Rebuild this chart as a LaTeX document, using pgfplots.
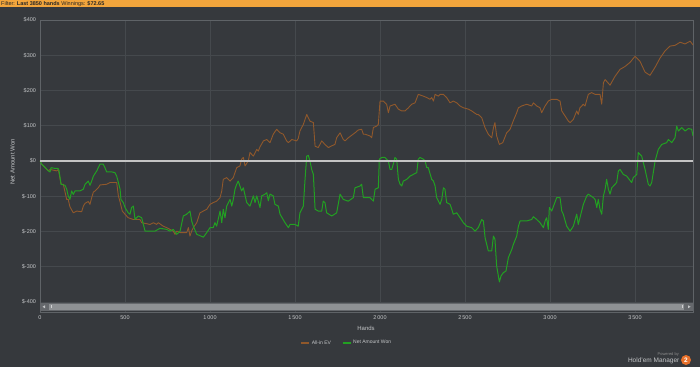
\documentclass[border=0pt]{standalone}
\usepackage{fontspec}
\setmainfont{Liberation Sans}
\usepackage{pgfplots}
\usepackage{pgfplotstable}
\pgfplotsset{compat=1.18}
\definecolor{bg}{HTML}{36393D}
\definecolor{gridc}{HTML}{45494D}
\definecolor{axc}{HTML}{5F6367}
\definecolor{txt}{HTML}{C4C6C8}
\definecolor{ev}{HTML}{90582B}
\definecolor{won}{HTML}{22A022}
\definecolor{zeroc}{HTML}{C4C4C4}
\definecolor{hdr}{HTML}{F2A53C}
\definecolor{badge}{HTML}{E8702A}
\definecolor{track}{HTML}{65686C}
\definecolor{thumb}{HTML}{8E9194}

\pgfplotstableread{
h v
0 0
10 -9
29 -18
49 -28
59 -31
65 -19
88 -21
106 -21
112 -28
124 -66
147 -69
157 -80
166 -99
176 -109
186 -85
196 -95
206 -85
235 -85
255 -80
265 -66
284 -57
294 -69
304 -57
314 -43
334 -28
353 -9
372 -9
382 -19
392 -31
422 -31
441 -33
451 -43
461 -61
471 -80
476 -109
490 -118
500 -132
519 -147
529 -151
539 -132
549 -128
559 -166
578 -156
598 -161
608 -180
618 -199
637 -199
676 -199
706 -191
745 -194
765 -199
784 -194
804 -208
824 -199
843 -156
863 -151
882 -142
892 -170
902 -185
922 -208
961 -216
981 -203
1000 -189
1019 -189
1029 -175
1039 -185
1059 -142
1069 -175
1078 -137
1088 -161
1098 -128
1118 -109
1128 -128
1137 -109
1147 -80
1157 -66
1166 -57
1176 -71
1186 -85
1196 -76
1216 -118
1235 -128
1255 -99
1265 -118
1275 -99
1294 -132
1304 -99
1324 -94
1334 -90
1343 -113
1353 -94
1372 -99
1382 -123
1402 -128
1412 -151
1441 -175
1461 -189
1471 -180
1500 -180
1519 -185
1529 -147
1549 -128
1559 -52
1569 14
1578 16
1588 0
1598 -24
1608 -38
1618 -137
1637 -142
1657 -142
1666 -114
1676 -118
1686 -147
1716 -156
1745 -147
1765 -94
1784 -109
1813 -114
1843 -104
1853 -76
1882 -71
1892 -66
1902 -104
1941 -104
1961 -114
1971 -80
1990 -76
1996 5
2010 10
2029 10
2039 5
2049 0
2059 -24
2069 -24
2078 -9
2088 10
2098 5
2108 -52
2118 -66
2128 -71
2137 -57
2157 -52
2176 -43
2196 -38
2216 -33
2225 5
2235 10
2255 5
2265 0
2275 -19
2284 -19
2304 -52
2314 -57
2324 -71
2333 -104
2353 -123
2363 -109
2373 -76
2382 -80
2392 -118
2412 -123
2422 -137
2431 -151
2451 -147
2471 -161
2490 -175
2510 -185
2539 -189
2559 -199
2578 -189
2598 -166
2608 -170
2618 -218
2637 -255
2657 -255
2667 -213
2676 -222
2686 -298
2702 -343
2712 -326
2725 -317
2741 -312
2755 -274
2775 -251
2784 -237
2804 -213
2814 -185
2824 -170
2863 -170
2892 -166
2902 -158
2922 -166
2941 -175
2961 -189
2971 -170
2980 -161
2990 -194
2996 -132
3010 -142
3039 -104
3059 -104
3069 -142
3078 -151
3098 -185
3118 -199
3137 -185
3157 -151
3166 -180
3186 -142
3196 -123
3216 -99
3225 -94
3255 -104
3265 -109
3275 -132
3284 -109
3294 -137
3304 -151
3314 -99
3324 -80
3333 -52
3343 -80
3353 -94
3363 -76
3373 -71
3392 -61
3402 -28
3412 -24
3431 -38
3451 -43
3480 -61
3490 -47
3510 -38
3519 24
3539 14
3559 -24
3578 -66
3588 -71
3598 -61
3618 0
3637 33
3657 47
3686 52
3696 61
3716 52
3735 66
3745 99
3755 85
3775 95
3794 85
3814 92
3833 90
3841 71
}\wondata

\pgfplotstableread{
h v
0 0
10 -9
29 -18
49 -28
59 -24
98 -28
108 -24
124 -66
137 -66
157 -109
166 -109
176 -130
196 -147
216 -142
245 -144
255 -128
265 -120
284 -115
294 -123
304 -104
314 -88
324 -85
343 -76
353 -68
392 -66
412 -61
451 -61
461 -99
471 -116
484 -142
500 -151
519 -161
549 -166
588 -166
598 -175
628 -178
647 -180
667 -175
686 -180
696 -175
725 -185
745 -189
784 -199
794 -208
804 -199
824 -203
863 -203
873 -189
882 -213
892 -199
902 -189
922 -175
941 -147
961 -142
981 -137
1000 -123
1019 -118
1039 -114
1059 -104
1069 -85
1078 -52
1098 -47
1118 -57
1137 -47
1157 -19
1176 -14
1186 5
1196 10
1206 -14
1225 0
1235 24
1255 14
1275 33
1284 28
1294 40
1314 57
1334 61
1353 52
1372 76
1392 90
1412 80
1431 76
1451 57
1461 52
1481 61
1510 57
1519 64
1529 85
1549 104
1569 132
1588 113
1608 109
1618 42
1637 38
1657 57
1676 47
1696 38
1716 43
1735 47
1745 66
1765 80
1784 61
1794 57
1814 66
1853 80
1872 88
1892 90
1902 76
1912 76
1941 71
1951 66
1961 95
1980 99
1990 104
2000 170
2020 170
2029 165
2039 161
2049 137
2059 156
2088 161
2108 147
2128 142
2147 142
2167 151
2186 161
2206 165
2225 189
2255 184
2275 180
2294 175
2304 180
2314 170
2324 189
2343 184
2353 189
2373 189
2392 180
2412 165
2431 170
2451 165
2471 156
2490 151
2520 147
2539 142
2569 132
2578 132
2598 123
2618 94
2637 76
2657 66
2667 94
2676 109
2686 71
2702 47
2722 52
2745 80
2765 90
2784 114
2804 137
2814 151
2833 156
2863 161
2892 156
2902 165
2922 156
2941 151
2951 137
2971 156
2990 170
3010 175
3039 175
3059 170
3069 142
3088 128
3108 113
3118 109
3137 118
3157 142
3166 132
3176 151
3196 161
3206 156
3225 189
3245 194
3265 189
3294 189
3304 161
3314 222
3324 231
3353 215
3382 240
3412 260
3441 268
3471 280
3500 297
3529 283
3559 252
3588 243
3618 266
3647 292
3676 312
3706 326
3735 328
3765 337
3794 332
3824 340
3841 329
}\evdata

\begin{document}
\begin{tikzpicture}
\fill[bg] (-40pt,-55pt) rectangle (660pt,312pt);
\fill[hdr] (-40pt,304.5pt) rectangle (660pt,312pt);
\node[anchor=west, font=\fontsize{5.5}{6}\selectfont, text=black!85, inner sep=0pt] at (-39pt,308.2pt) {Filter: \textbf{Last 3850 hands} Winnings: \textbf{\$72.65}};
\begin{axis}[
  scale only axis, width=653pt, height=292pt,
  xmin=0, xmax=3841, ymin=-428.4, ymax=400,
  xtick={0,500,1000,1500,2000,2500,3000,3500},
  xticklabels={0,500,{1\,000},{1\,500},{2\,000},{2\,500},{3\,000},{3\,500}},
  ytick={-400,-300,-200,-100,0,100,200,300,400},
  yticklabels={\$-400,\$-300,\$-200,\$-100,\$0,\$100,\$200,\$300,\$400},
  major tick length=0pt,
  grid=major,
  major grid style={draw=gridc, line width=0.6pt},
  axis line style={draw=axc, line width=0.9pt},
  tick label style={text=txt, font=\fontsize{5.5}{6}\selectfont},
  x tick label style={anchor=center, yshift=-6pt},
  y tick label style={anchor=east, xshift=-0.5pt},
  legend style={at={(0.470,-0.106)}, anchor=center, draw=none, fill=none, text=txt,
    font=\fontsize{5}{6}\selectfont, legend columns=2,
    /tikz/every even column/.append style={column sep=9pt}},
  legend image code/.code={\draw[#1, line width=1.2pt] (0pt,0pt) -- (8pt,0pt);},
]
\addplot[ev, line width=0.9pt, line join=round] table[x=h,y=v] {\evdata};
\addlegendentry{All-in EV}
\addplot[won, line width=1pt, line join=round] table[x=h,y=v] {\wondata};
\addlegendentry{Net Amount Won}
\addplot[zeroc, line width=1.5pt, forget plot] coordinates {(0,0) (3841,0)};
\end{axis}
% scrollbar
\fill[track] (0pt,1pt) rectangle (653pt,9.5pt);
\fill[thumb] (9pt,2.5pt) rectangle (644pt,8pt);
\fill[txt] (2.5pt,5.25pt) -- (5pt,6.75pt) -- (5pt,3.75pt) -- cycle;
\fill[txt] (650.5pt,5.25pt) -- (648pt,6.75pt) -- (648pt,3.75pt) -- cycle;
\draw[txt!80, line width=0.6pt] (11pt,3.8pt) -- (11pt,6.8pt);
\draw[txt!80, line width=0.6pt] (642pt,3.8pt) -- (642pt,6.8pt);
% labels
\node[font=\fontsize{6}{7}\selectfont, text=txt] at (326pt,-16pt) {Hands};
\node[rotate=90, font=\fontsize{6}{7}\selectfont, text=txt] at (-27.5pt,150pt) {Net Amount Won};
\node[anchor=east, font=\fontsize{4}{5}\selectfont, text=gray!90, inner sep=0pt] at (639pt,-42pt) {Powered by};
\node[anchor=east, font=\fontsize{6.5}{7}\selectfont, text=txt, inner sep=0pt] at (639.5pt,-48.5pt) {Hold'em Manager};
\fill[badge] (646pt,-48pt) circle (5pt);
\node[font=\bfseries\fontsize{6.5}{7}\selectfont, text=white, inner sep=0pt] at (646pt,-48pt) {2};
\pgfresetboundingbox
\path (-40pt,-55pt) rectangle (660pt,312pt);
\end{tikzpicture}
\end{document}
